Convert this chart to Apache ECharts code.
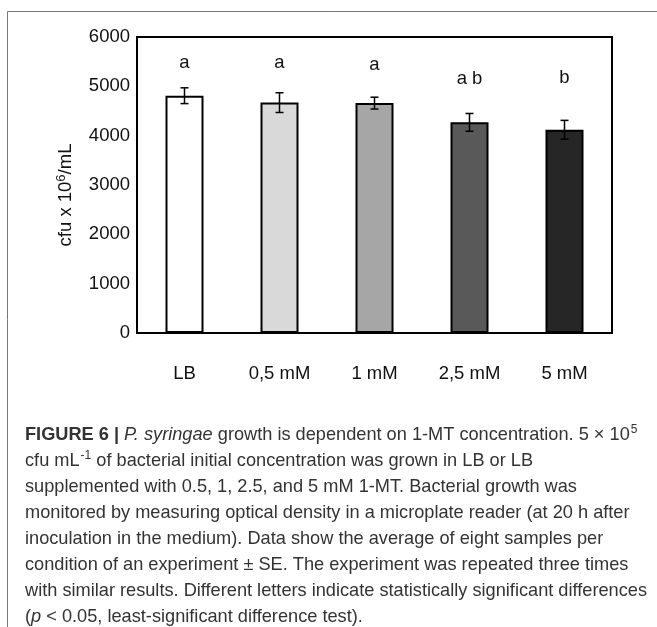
<!DOCTYPE html>
<html>
<head>
<meta charset="utf-8">
<style>
html,body{margin:0;padding:0;background:#fff;}
#chart{width:657px;height:627px;}
</style>
<script src="https://cdn.jsdelivr.net/npm/echarts@6/dist/echarts.min.js"></script>
</head>
<body>
<div id="chart"></div>
<script>
var categories = ['LB', '0,5 mM', '1 mM', '2,5 mM', '5 mM'];
var means = [4810, 4670, 4660, 4270, 4120];
var errors = [160, 200, 120, 180, 190];
var letters = ['a', 'a', 'a', 'a b', 'b'];
var letterY = [5480, 5480, 5440, 5150, 5170];
var barColors = ['#ffffff', '#d9d9d9', '#a6a6a6', '#595959', '#262626'];
var yMin = 0, yMax = 6000, yInterval = 1000;

var captionLines = [
  '{b|FIGURE 6 |} {i|P. syringae} growth is dependent on 1-MT concentration. 5 \u00d7 10{sup|5}',
  'cfu mL{sup|-1} of bacterial initial concentration was grown in LB or LB',
  'supplemented with 0.5, 1, 2.5, and 5 mM 1-MT. Bacterial growth was',
  'monitored by measuring optical density in a microplate reader (at 20 h after',
  'inoculation in the medium). Data show the average of eight samples per',
  'condition of an experiment \u00b1 SE. The experiment was repeated three times',
  'with similar results. Different letters indicate statistically significant differences',
  '({i|p} < 0.05, least-significant difference test).'
];

var chart = echarts.init(document.getElementById('chart'));
var font = 'Liberation Sans, Arial, Helvetica, sans-serif';
var capFont = 'Liberation Sans, Arial, Helvetica, sans-serif';
var fs = 18.5;
var capFs = 18.2;

var graphics = [
  {type: 'line', shape: {x1: 7.5, y1: 11.5, x2: 657, y2: 11.5}, style: {stroke: '#777', lineWidth: 1}, silent: true},
  {type: 'line', shape: {x1: 7.5, y1: 11.5, x2: 7.5, y2: 627}, style: {stroke: '#777', lineWidth: 1}, silent: true}
];
var capRich = {
  b: {fontWeight: 'bold', color: '#1a1a1a', fontSize: capFs, fontFamily: capFont, lineHeight: 22},
  i: {fontStyle: 'italic', color: '#333', fontSize: capFs, fontFamily: capFont, lineHeight: 22},
  sup: {fontSize: 12, color: '#333', fontFamily: capFont, verticalAlign: 'top', lineHeight: 13, padding: [0, 0, 0, 1]}
};
captionLines.forEach(function (t, k) {
  graphics.push({
    type: 'text', left: 25, top: 424 + k * 26, silent: true,
    style: {text: t, fill: '#333', fontSize: capFs, fontFamily: capFont, lineHeight: 22, rich: capRich}
  });
});

var option = {
  animation: false,
  backgroundColor: '#fff',
  grid: [
    {left: 137, top: 37, width: 475, height: 296, show: true, borderColor: '#000', borderWidth: 2, backgroundColor: 'transparent'}
  ],
  xAxis: [{
    type: 'category', data: categories, gridIndex: 0,
    axisLine: {show: true, lineStyle: {color: '#000', width: 2}},
    axisTick: {show: false},
    axisLabel: {color: '#111', fontSize: fs, fontFamily: font, margin: 31},
    splitLine: {show: false}
  }],
  yAxis: [{
    type: 'value', min: yMin, max: yMax, interval: yInterval, gridIndex: 0,
    axisLine: {show: true, lineStyle: {color: '#000', width: 2}},
    axisTick: {show: false},
    splitLine: {show: false},
    axisLabel: {color: '#111', fontSize: fs, fontFamily: font, margin: 7,
      formatter: function (v) { return String(v); }},
    name: 'cfu x 10{sup|6}/mL', nameLocation: 'middle', nameGap: 60, nameRotate: 90,
    nameTextStyle: {color: '#111', fontSize: fs, fontFamily: font, padding: [0, 20, 0, 0], lineHeight: 22,
      rich: {sup: {fontSize: 13, fontFamily: font, color: '#111', verticalAlign: 'top', lineHeight: 13}}}
  }],
  series: [
    {
      type: 'bar', barWidth: '40%',
      data: means.map(function (v, i) {
        return {value: v, itemStyle: {color: barColors[i], borderColor: '#000', borderWidth: 2}};
      }),
      z: 2
    },
    {
      type: 'custom', z: 5,
      data: means.map(function (v, i) { return [i, v, errors[i]]; }),
      renderItem: function (params, api) {
        var i = api.value(0), m = api.value(1), e = api.value(2);
        var hi = api.coord([i, m + e]);
        var lo = api.coord([i, m - e]);
        var cap = 4;
        var st = {stroke: '#000', lineWidth: 1.5};
        return {type: 'group', children: [
          {type: 'line', shape: {x1: hi[0], y1: hi[1], x2: lo[0], y2: lo[1]}, style: st},
          {type: 'line', shape: {x1: hi[0] - cap, y1: hi[1], x2: hi[0] + cap, y2: hi[1]}, style: st},
          {type: 'line', shape: {x1: lo[0] - cap, y1: lo[1], x2: lo[0] + cap, y2: lo[1]}, style: st}
        ]};
      }
    },
    {
      type: 'custom', z: 5,
      data: letterY.map(function (v, i) { return [i, v]; }),
      renderItem: function (params, api) {
        var p = api.coord([api.value(0), api.value(1)]);
        return {type: 'text', x: p[0], y: p[1], style: {
          text: letters[params.dataIndex], fill: '#111', fontSize: fs, fontFamily: font,
          align: 'center', verticalAlign: 'middle'}};
      }
    }
  ],
  graphic: graphics
};
chart.setOption(option);
</script>
</body>
</html>
